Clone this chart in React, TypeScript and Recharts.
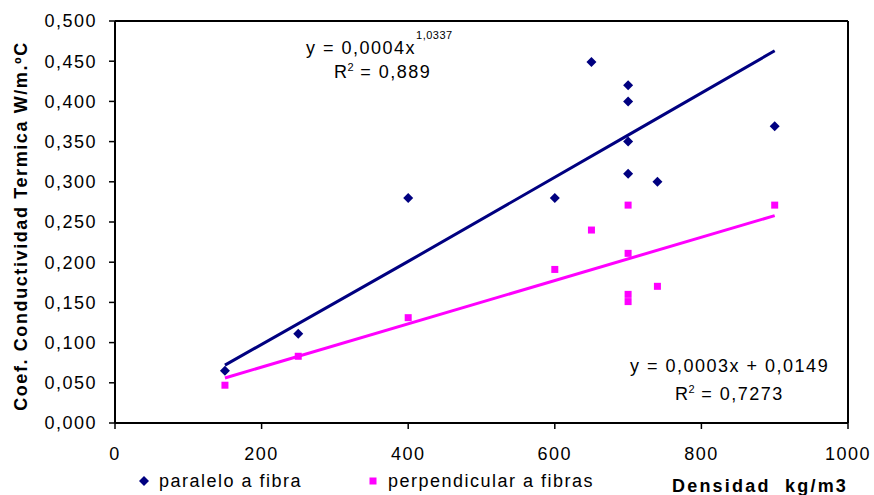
import React from "react";
import {
    ComposedChart,
    Scatter,
    Line,
    XAxis,
    YAxis,
    ReferenceLine,
    Customized,
} from "recharts";

// densidad (kg/m3) y conductividad (W/m.ºC)
const densParalelo = [150, 250, 400, 600, 650, 700, 700, 700, 700, 740, 900];
const condParalelo = [0.065, 0.111, 0.28, 0.28, 0.449, 0.42, 0.4, 0.35, 0.31, 0.3, 0.369];

const densPerp = [150, 250, 400, 600, 650, 700, 700, 700, 700, 740, 900];
const condPerp = [0.047, 0.083, 0.131, 0.191, 0.24, 0.271, 0.211, 0.16, 0.151, 0.17, 0.271];

// lineas de tendencia
const trendParaleloX = [150, 400, 700, 900];
const trendParaleloY = [0.072, 0.201, 0.358, 0.463];
const trendPerpX = [150, 900];
const trendPerpY = [0.056, 0.258];

const xTicks = [0, 200, 400, 600, 800, 1000];
const yTicks = [0, 0.05, 0.1, 0.15, 0.2, 0.25, 0.3, 0.35, 0.4, 0.45, 0.5];

const NAVY = "#000080";
const MAGENTA = "#FF00FF";
const FONT = "'Liberation Sans', Arial, sans-serif";

const zip = (xs: number[], ys: number[]) => xs.map((x, i) => ({ x, y: ys[i] }));

const paralelo = zip(densParalelo, condParalelo);
const perpendicular = zip(densPerp, condPerp);
const trendParalelo = zip(trendParaleloX, trendParaleloY);
const trendPerp = zip(trendPerpX, trendPerpY);

const Diamond = (props: any) => {
    const { cx, cy } = props;
    const r = 5;
    return (
        <polygon
            points={`${cx},${cy - r} ${cx + r},${cy} ${cx},${cy + r} ${cx - r},${cy}`}
            fill={NAVY}
        />
    );
};

const Square = (props: any) => {
    const { cx, cy } = props;
    return <rect x={cx - 3.5} y={cy - 3.5} width={7} height={7} fill={MAGENTA} />;
};

const txt = {
    fontFamily: FONT,
    fontSize: 18,
    fill: "#000",
    letterSpacing: 1.5,
};

const Annotations = () => (
    <g>
        {/* ecuacion potencial */}
        <text x={306} y={54} {...txt}>
            y = 0,0004x
            <tspan fontSize={11} dy={-15} letterSpacing={0.5}>
                1,0337
            </tspan>
        </text>
        <text x={334} y={78} {...txt}>
            R
            <tspan fontSize={11} dy={-7} dx={-1} letterSpacing={0}>
                2
            </tspan>
            <tspan dy={7}> = 0,889</tspan>
        </text>

        {/* ecuacion lineal */}
        <text x={630} y={372} {...txt}>
            y = 0,0003x + 0,0149
        </text>
        <text x={675} y={400} {...txt}>
            R
            <tspan fontSize={11} dy={-7} dx={-1} letterSpacing={0}>
                2
            </tspan>
            <tspan dy={7}> = 0,7273</tspan>
        </text>

        {/* titulos de ejes */}
        <text
            x={672}
            y={492}
            fontFamily={FONT}
            fontSize={18}
            fontWeight="bold"
            letterSpacing={2.2}
            style={{ whiteSpace: "pre" }}
        >
            {"Densidad  kg/m3"}
        </text>
        <text
            x={27}
            y={226}
            transform="rotate(-90 27 226)"
            textAnchor="middle"
            fontFamily={FONT}
            fontSize={18}
            fontWeight="bold"
            letterSpacing={1.6}
        >
            Coef. Conductividad Termica W/m.ºC
        </text>

        {/* leyenda */}
        <polygon points="144,476 149,481 144,486 139,481" fill={NAVY} />
        <text x={159} y={487} {...txt}>
            paralelo a fibra
        </text>
        <rect x={369.5} y={477.5} width={7} height={7} fill={MAGENTA} />
        <text x={388} y={487} {...txt}>
            perpendicular a fibras
        </text>
    </g>
);

const App = () => {
    return (
        <div style={{ position: "absolute", left: 0, top: 0, background: "#fff" }}>
            <ComposedChart
                width={874}
                height={495}
                margin={{ top: 21, right: 26, left: 0, bottom: 0 }}
            >
                <XAxis
                    type="number"
                    dataKey="x"
                    domain={[0, 1000]}
                    ticks={xTicks}
                    allowDataOverflow
                    height={72}
                    stroke="#000"
                    axisLine={{ stroke: "#000", strokeWidth: 2 }}
                    tickLine={{ stroke: "#000", strokeWidth: 1.5 }}
                    tickSize={6}
                    tickMargin={18}
                    tick={{ fill: "#000", fontSize: 18, fontFamily: FONT, letterSpacing: 1.5 }}
                />
                <YAxis
                    type="number"
                    dataKey="y"
                    domain={[0, 0.5]}
                    ticks={yTicks}
                    allowDataOverflow
                    width={115}
                    stroke="#000"
                    axisLine={{ stroke: "#000", strokeWidth: 2 }}
                    tickLine={{ stroke: "#000", strokeWidth: 1.5 }}
                    tickSize={6}
                    tickMargin={12}
                    tickFormatter={(v: number) => v.toFixed(3).replace(".", ",")}
                    tick={{ fill: "#000", fontSize: 18, fontFamily: FONT, letterSpacing: 1.5 }}
                />
                <ReferenceLine y={0.5} stroke="#000" strokeWidth={2} />
                <ReferenceLine x={1000} stroke="#000" strokeWidth={2} />

                <Line
                    data={trendParalelo}
                    dataKey="y"
                    type="linear"
                    stroke={NAVY}
                    strokeWidth={3}
                    dot={false}
                    activeDot={false}
                    isAnimationActive={false}
                />
                <Line
                    data={trendPerp}
                    dataKey="y"
                    type="linear"
                    stroke={MAGENTA}
                    strokeWidth={3}
                    dot={false}
                    activeDot={false}
                    isAnimationActive={false}
                />
                <Scatter
                    name="paralelo a fibra"
                    data={paralelo}
                    dataKey="y"
                    shape={<Diamond />}
                    isAnimationActive={false}
                />
                <Scatter
                    name="perpendicular a fibras"
                    data={perpendicular}
                    dataKey="y"
                    shape={<Square />}
                    isAnimationActive={false}
                />
                <Customized component={<Annotations />} />
            </ComposedChart>
        </div>
    );
};

export default App;
